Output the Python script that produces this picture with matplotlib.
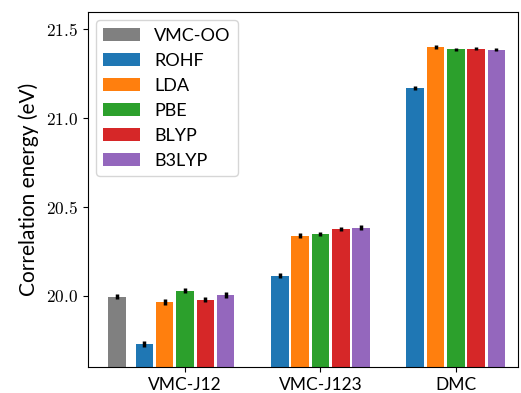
import matplotlib.pyplot as plt
import matplotlib.ticker as mticker
import numpy as np

plt.rcParams["mathtext.fontset"] = "cm"
plt.rcParams["font.family"] = ["Lato", "DejaVu Sans"]

groups = ["VMC-J12", "VMC-J123", "DMC"]
methods = ["ROHF", "LDA", "PBE", "BLYP", "B3LYP"]
colors = ["#1f77b4", "#ff7f0e", "#2ca02c", "#d62728", "#9467bd"]

vmc_oo = 19.995
vmc_oo_err = 0.015

# rows: ROHF, LDA, PBE, BLYP, B3LYP ; cols: VMC-J12, VMC-J123, DMC
energies = [
    [19.730, 20.113, 21.168],
    [19.966, 20.338, 21.399],
    [20.028, 20.349, 21.386],
    [19.979, 20.377, 21.390],
    [20.006, 20.383, 21.385],
]
errors = [
    [0.015, 0.013, 0.010],
    [0.015, 0.013, 0.010],
    [0.014, 0.013, 0.010],
    [0.015, 0.013, 0.010],
    [0.015, 0.013, 0.010],
]

fig, ax = plt.subplots(figsize=(5.21, 3.93), dpi=100)
fig.subplots_adjust(left=0.169, right=0.994, top=0.969, bottom=0.066)

x = np.arange(len(groups))
step = 0.15
w = 0.13
ekw = dict(lw=2.5, capsize=0, ecolor="k")

ax.bar(-0.5, vmc_oo, w, yerr=vmc_oo_err, color="gray", label="VMC-OO", error_kw=ekw)
for i, m in enumerate(methods):
    ax.bar(x + (i - 2) * step, energies[i], w, yerr=errors[i], color=colors[i],
           label=m, error_kw=ekw)

ax.set_xlim(-0.716, 2.458)
ax.set_ylim(19.6, 21.595)
ax.set_yticks([20.0, 20.5, 21.0, 21.5])
ax.yaxis.set_major_formatter(mticker.FuncFormatter(lambda v, p: f"${v:.1f}$"))
ax.set_xticks(x)
ax.set_xticklabels(groups)
ax.tick_params(labelsize=12.5)
ax.set_ylabel("Correlation energy (eV)", fontsize=15, labelpad=5)
ax.legend(loc="upper left", fontsize=13, borderaxespad=0.45)

fig.savefig("out.png")
